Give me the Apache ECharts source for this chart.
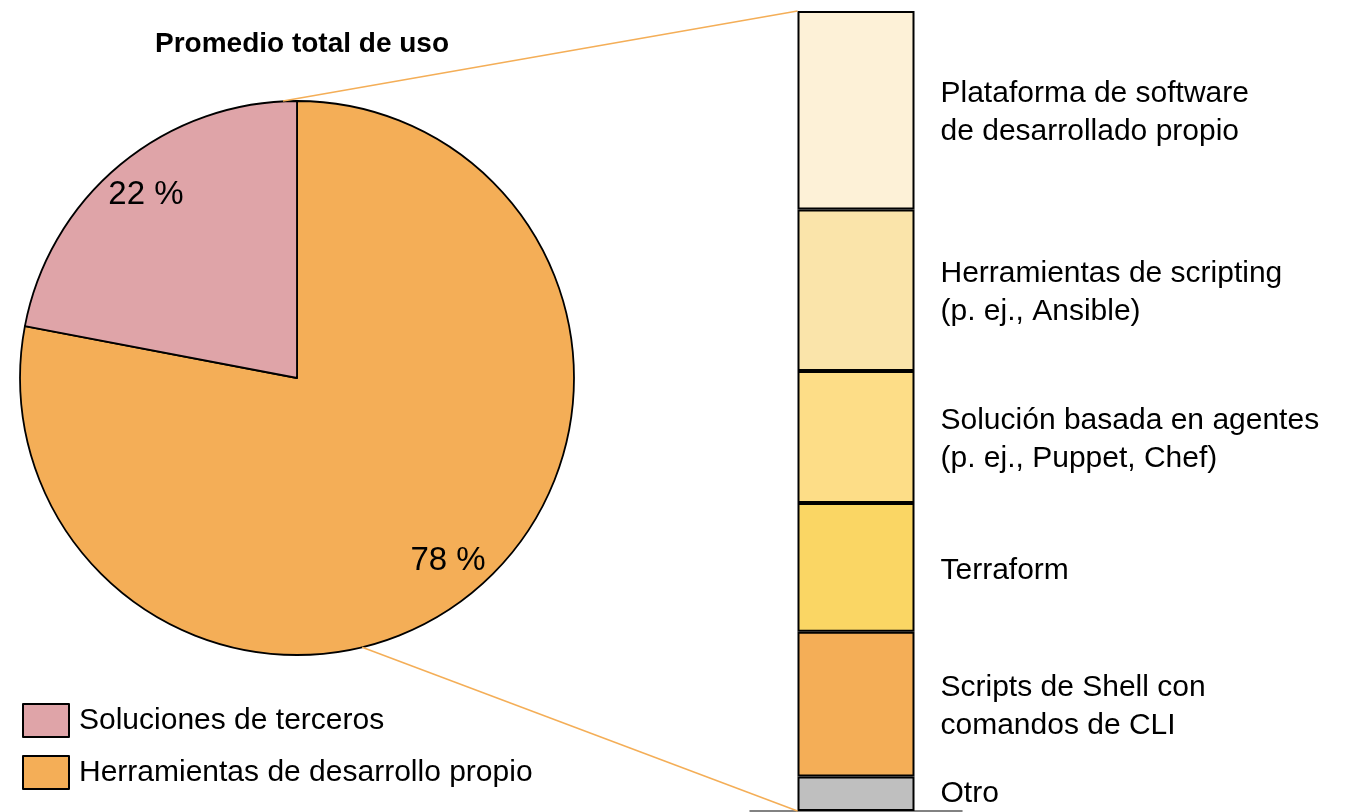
<!DOCTYPE html>
<html>
<head>
<meta charset="utf-8">
<script src="https://cdn.jsdelivr.net/npm/echarts@6/dist/echarts.min.js"></script>
<style>
  html, body { margin: 0; padding: 0; background: #fff; }
  #main { width: 1349px; height: 812px; }
</style>
</head>
<body>
<div id="main"></div>
<script>
// pie: share of total use
const pieNames = ['Herramientas de desarrollo propio', 'Soluciones de terceros'];
const pieValues = [78, 22];
const pieColors = ['#F4AE57', '#DFA4A8'];

// stacked bar: breakdown of in-house tools (bottom -> top)
const barNames = [
  'Otro',
  'Scripts de Shell con\ncomandos de CLI',
  'Terraform',
  'Solución basada en agentes\n(p. ej., Puppet, Chef)',
  'Herramientas de scripting\n(p. ej., Ansible)',
  'Plataforma de software\nde desarrollado propio'
];
const barValues = [4.3, 18.1, 16.1, 16.5, 20.2, 24.8];
const barColors = ['#BFBFBF', '#F4AE57', '#FAD664', '#FDDD87', '#FAE4AA', '#FDF1D7'];

const FONT = '"Liberation Sans", Arial, sans-serif';
const pieCenter = [297, 378];
const pieRadius = 277;
const barW = 117;

const chart = echarts.init(document.getElementById('main'));

const option = {
  animation: false,
  textStyle: { fontFamily: FONT },
  title: {
    text: 'Promedio total de uso',
    left: 297,
    top: 25,
    textAlign: 'center',
    textStyle: { fontSize: 28, fontWeight: 'bold', color: '#000', fontFamily: FONT }
  },
  legend: {
    data: ['Soluciones de terceros', 'Herramientas de desarrollo propio'],
    orient: 'vertical',
    left: 17,
    top: 698,
    itemWidth: 46,
    itemHeight: 33,
    itemGap: 17,
    icon: 'rect',
    selectedMode: false,
    textStyle: { fontSize: 30, color: '#000', padding: [0, 0, 0, 5] }
  },
  grid: { left: 750, right: 387, top: 11, bottom: 1 },
  xAxis: {
    type: 'category',
    data: ['uso'],
    axisLabel: { show: false },
    axisTick: { show: false },
    axisLine: { lineStyle: { color: '#595959', width: 1.5 } }
  },
  yAxis: { type: 'value', min: 0, max: 100, show: false },
  series: [
    {
      type: 'pie',
      center: pieCenter,
      radius: [0, pieRadius],
      startAngle: 90,
      clockwise: true,
      label: { show: false },
      labelLine: { show: false },
      itemStyle: { borderColor: '#000', borderWidth: 1.8 },
      data: pieNames.map((n, i) => ({ name: n, value: pieValues[i], itemStyle: { color: pieColors[i] } }))
    },
    {
      // transparent ring only used to place the percent labels
      type: 'pie',
      center: pieCenter,
      radius: [191, pieRadius],
      startAngle: 90,
      clockwise: true,
      silent: true,
      itemStyle: { color: 'rgba(0,0,0,0)', borderWidth: 0 },
      label: {
        show: true,
        position: 'inside',
        formatter: p => p.value + ' %',
        fontSize: 33,
        color: '#000'
      },
      labelLine: { show: false },
      data: pieNames.map((n, i) => ({ name: n, value: pieValues[i] }))
    }
  ].concat(barNames.map((n, i) => ({
    type: 'bar',
    name: n,
    stack: 'total',
    barWidth: barW,
    data: [barValues[i]],
    itemStyle: { color: barColors[i], borderColor: '#000', borderWidth: 2 },
    label: {
      show: true,
      position: 'right',
      distance: 26,
      offset: [0, i === 0 ? 0 : 3],
      formatter: '{a}',
      fontSize: 30,
      lineHeight: 38,
      color: '#000',
      align: 'left'
    }
  })))
};

chart.setOption(option);

// connector lines from the pie to the bar
const topMid = chart.convertToPixel({ xAxisIndex: 0, yAxisIndex: 0 }, [0, 100]);
const botMid = chart.convertToPixel({ xAxisIndex: 0, yAxisIndex: 0 }, [0, 0]);
const barLeft = topMid[0] - barW / 2;
const lowAngle = 76.4 * Math.PI / 180;
const pTop = [pieCenter[0], pieCenter[1] - pieRadius];
const pBot = [pieCenter[0] + pieRadius * Math.cos(lowAngle), pieCenter[1] + pieRadius * Math.sin(lowAngle)];

chart.setOption({
  graphic: [
    {
      type: 'line', z: 10,
      shape: { x1: pTop[0] - 14, y1: pTop[1], x2: barLeft, y2: topMid[1] },
      style: { stroke: '#F4AE57', lineWidth: 1.5 }
    },
    {
      type: 'line', z: 10,
      shape: { x1: pBot[0], y1: pBot[1], x2: barLeft, y2: botMid[1] },
      style: { stroke: '#F4AE57', lineWidth: 1.5 }
    }
  ]
});
</script>
</body>
</html>
